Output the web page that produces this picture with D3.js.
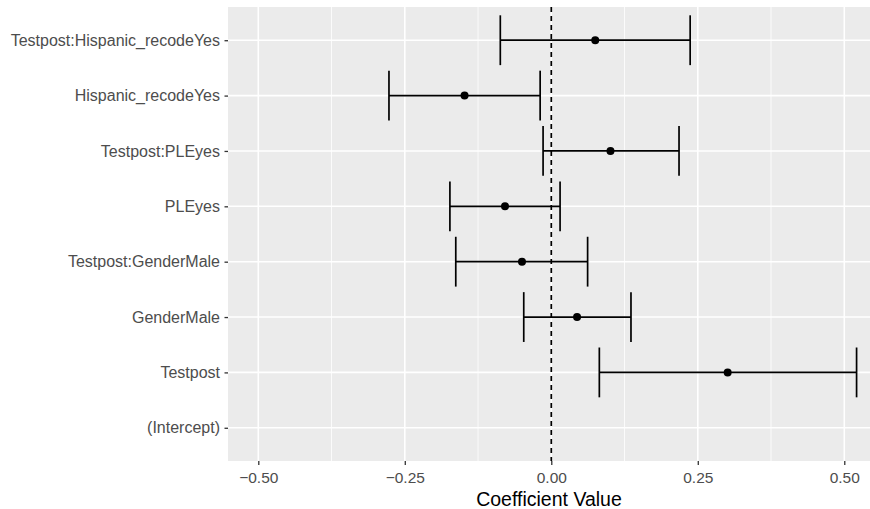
<!DOCTYPE html>
<html>
<head>
<meta charset="utf-8">
<script src="https://cdn.jsdelivr.net/npm/d3@7"></script>
<style>
  body { margin: 0; background: #fff; }
  svg text { font-family: "Liberation Sans", Arial, sans-serif; }
</style>
</head>
<body>
<svg id="chart" width="870" height="509"></svg>
<script>
// coefficient plot, top row first
const terms = ["Testpost:Hispanic_recodeYes", "Hispanic_recodeYes", "Testpost:PLEyes", "PLEyes",
               "Testpost:GenderMale", "GenderMale", "Testpost", "(Intercept)"];
const estimates = [0.075, -0.148, 0.101, -0.079, -0.050, 0.044, 0.301, null];
const lowers    = [-0.087, -0.277, -0.014, -0.173, -0.163, -0.047, 0.082, null];
const uppers    = [0.237, -0.019, 0.218, 0.015, 0.062, 0.136, 0.521, null];
const xTicks = [-0.5, -0.25, 0, 0.25, 0.5];
const xMinor = [-0.375, -0.125, 0.125, 0.375];

const svg = d3.select('#chart');
const panel = { left: 228, right: 870, top: 7, bottom: 461 };

const x = d3.scaleLinear().domain([-0.5517, 0.5439]).range([panel.left, panel.right]);
// discrete axis with ggplot's 0.6 expansion on each side
const y = d3.scalePoint().domain(terms).range([panel.top, panel.bottom]).padding(0.6);
const rowStep = y.step();

const rows = terms.map((t, i) => ({ term: t, est: estimates[i], lo: lowers[i], hi: uppers[i] }))
    .filter(d => d.est !== null);

// panel background
svg.append('rect')
    .attr('x', panel.left).attr('y', panel.top)
    .attr('width', panel.right - panel.left).attr('height', panel.bottom - panel.top)
    .attr('fill', '#EBEBEB');

// grid lines
svg.append('g').selectAll('line').data(xMinor).enter().append('line')
    .attr('x1', d => x(d)).attr('x2', d => x(d))
    .attr('y1', panel.top).attr('y2', panel.bottom)
    .attr('stroke', '#fff').attr('stroke-width', 0.8);
svg.append('g').selectAll('line').data(xTicks).enter().append('line')
    .attr('x1', d => x(d)).attr('x2', d => x(d))
    .attr('y1', panel.top).attr('y2', panel.bottom)
    .attr('stroke', '#fff').attr('stroke-width', 1.6);
svg.append('g').selectAll('line').data(terms).enter().append('line')
    .attr('x1', panel.left).attr('x2', panel.right)
    .attr('y1', d => y(d)).attr('y2', d => y(d))
    .attr('stroke', '#fff').attr('stroke-width', 1.6);

// x axis
const xAxis = svg.append('g')
    .attr('transform', `translate(0,${panel.bottom})`)
    .call(d3.axisBottom(x).tickValues(xTicks).tickSize(4).tickPadding(7)
        .tickFormat(d => d3.format('.2f')(d).replace('-', '\u2212')));
xAxis.select('.domain').remove();
xAxis.selectAll('line').attr('stroke', '#333').attr('stroke-width', 1.3);
xAxis.selectAll('text').attr('fill', '#4D4D4D').style('font-size', '15.5px');

// y axis
const yAxis = svg.append('g')
    .attr('transform', `translate(${panel.left},0)`)
    .call(d3.axisLeft(y).tickSize(3.5).tickPadding(4.5));
yAxis.select('.domain').remove();
yAxis.selectAll('line').attr('stroke', '#333').attr('stroke-width', 1.3);
yAxis.selectAll('text').attr('fill', '#4D4D4D').style('font-size', '16px');

// axis title
svg.append('text')
    .attr('x', (panel.left + panel.right) / 2).attr('y', 506)
    .attr('text-anchor', 'middle')
    .style('font-size', '19.5px').attr('fill', '#000')
    .text('Coefficient Value');

// zero reference line
svg.append('line')
    .attr('x1', x(0)).attr('x2', x(0))
    .attr('y1', panel.top).attr('y2', panel.bottom)
    .attr('stroke', '#000').attr('stroke-width', 1.7)
    .attr('stroke-dasharray', '5,4');

// error bars
const capHalf = rowStep * 0.45;
const bars = svg.append('g').selectAll('g').data(rows).enter().append('g');
bars.append('line')
    .attr('x1', d => x(d.lo)).attr('x2', d => x(d.hi))
    .attr('y1', d => y(d.term)).attr('y2', d => y(d.term))
    .attr('stroke', '#000').attr('stroke-width', 1.7);
bars.append('line')
    .attr('x1', d => x(d.lo)).attr('x2', d => x(d.lo))
    .attr('y1', d => y(d.term) - capHalf).attr('y2', d => y(d.term) + capHalf)
    .attr('stroke', '#000').attr('stroke-width', 1.7);
bars.append('line')
    .attr('x1', d => x(d.hi)).attr('x2', d => x(d.hi))
    .attr('y1', d => y(d.term) - capHalf).attr('y2', d => y(d.term) + capHalf)
    .attr('stroke', '#000').attr('stroke-width', 1.7);
bars.append('circle')
    .attr('cx', d => x(d.est)).attr('cy', d => y(d.term))
    .attr('r', 4).attr('fill', '#000');
</script>
</body>
</html>
